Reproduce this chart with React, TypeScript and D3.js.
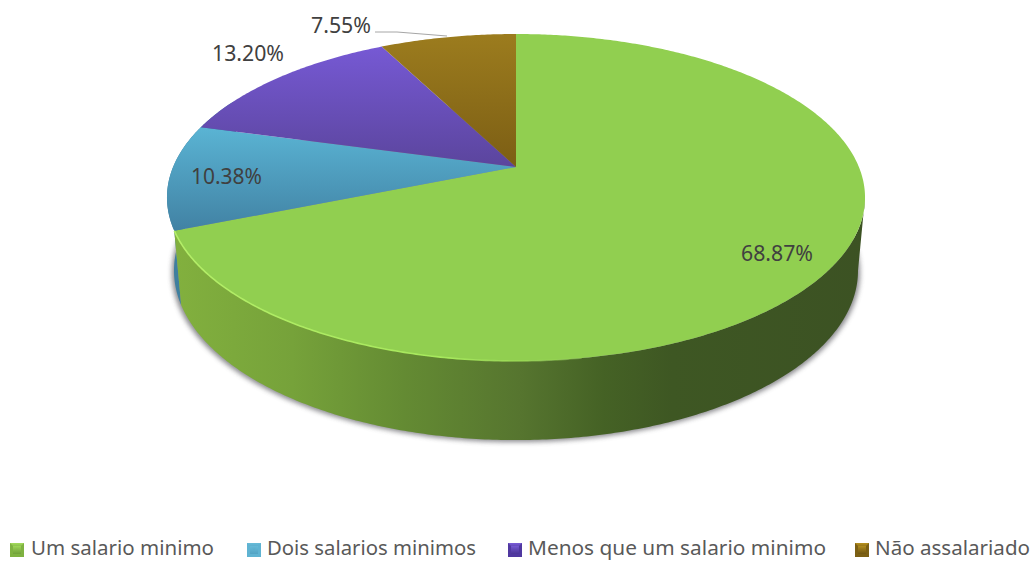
import React from "react";
import * as d3 from "d3";

const categories = ["Um salario minimo", "Dois salarios minimos", "Menos que um salario minimo", "Não assalariado"];
const shares = [68.87, 10.38, 13.2, 7.55];
const shareLabels = ["68.87%", "10.38%", "13.20%", "7.55%"];

const W = 1035, H = 561;
const K = 0.1865;
const topDisk = { cx: 516, cy: 167, R: 342.9, B: 157.8 };
const baseDisk = { cx: 516, cy: 239, R: 336, B: 163.6 };
type Disk = typeof topDisk;

const project = (d: Disk, a: number): [number, number] => {
  const x = Math.sin(a), y = -Math.cos(a), w = 1 - K * y;
  return [d.cx + (d.R * x) / w, d.cy + (d.B * y) / w];
};
const arcPts = (d: Disk, a0: number, a1: number): [number, number][] => {
  const n = Math.max(2, Math.ceil(Math.abs(a1 - a0) / 0.01));
  return d3.range(n + 1).map((i) => project(d, a0 + ((a1 - a0) * i) / n));
};
const line = d3.line<[number, number]>().x((p) => p[0]).y((p) => p[1]);

const arcs = d3.pie<number>().sort(null).value((v) => v)(shares);
const topFills = ["#91cf50", "url(#gBlue)", "url(#gPurple)", "url(#gBrown)"];
const swatch = [
  { base: "#7fb241", hi: "#a4dc5c", lo: "#6d9c38" },
  { base: "#5fb3d2", hi: "#68bcd9", lo: "#4f9fc0" },
  { base: "#5038a0", hi: "#7a5cd8", lo: "#4a3594" },
  { base: "#7c6014", hi: "#b8921f", lo: "#6d5412" },
];
const legendLayout = [
  { sx: 10, tx: 31, tw: 183 },
  { sx: 247, tx: 267, tw: 209 },
  { sx: 508, tx: 528, tw: 298 },
  { sx: 855, tx: 875, tw: 155 },
];
const labelLayout = [
  { x: 741, y: 261, w: 72 },
  { x: 191, y: 184, w: 71 },
  { x: 212, y: 61, w: 72 },
  { x: 311, y: 33, w: 60 },
];

const wall = (a0: number, a1: number) =>
  (line([...arcPts(topDisk, a0, a1), ...arcPts(baseDisk, a1, a0)]) ?? "") + "Z";
const slice = (a0: number, a1: number) =>
  (line([[topDisk.cx, topDisk.cy], ...arcPts(topDisk, a0, a1)]) ?? "") + "Z";

export default function App() {
  const greenEnd = arcs[0].endAngle;
  const blueEnd = arcs[1].endAngle;
  const silhouette = Math.acos(-K);
  const shadowPts = arcPts({ ...baseDisk, R: baseDisk.R + 2, cy: baseDisk.cy + 2 }, 0, Math.PI * 2);
  return (
    <svg width={W} height={H} viewBox={`0 0 ${W} ${H}`} style={{ position: "absolute", left: 0, top: 0, background: "#fff" }}>
      <defs>
        <linearGradient id="gBlue" gradientUnits="userSpaceOnUse" x1="0" y1="127" x2="0" y2="240">
          <stop offset="0" stopColor="#5ab4d4" />
          <stop offset="1" stopColor="#3f7d9f" />
        </linearGradient>
        <linearGradient id="gPurple" gradientUnits="userSpaceOnUse" x1="0" y1="47" x2="0" y2="167">
          <stop offset="0" stopColor="#7659d4" />
          <stop offset="1" stopColor="#5b459d" />
        </linearGradient>
        <linearGradient id="gBrown" gradientUnits="userSpaceOnUse" x1="0" y1="34" x2="0" y2="167">
          <stop offset="0" stopColor="#9c7c1e" />
          <stop offset="1" stopColor="#7c5e14" />
        </linearGradient>
        <linearGradient id="gWall" gradientUnits="userSpaceOnUse" x1="175" y1="0" x2="865" y2="0">
          <stop offset="0" stopColor="#82b03e" />
          <stop offset="0.17" stopColor="#76a23a" />
          <stop offset="0.33" stopColor="#648b33" />
          <stop offset="0.5" stopColor="#56752f" />
          <stop offset="0.62" stopColor="#456225" />
          <stop offset="0.72" stopColor="#3e5723" />
          <stop offset="1" stopColor="#3c5223" />
        </linearGradient>
        <linearGradient id="gRim" gradientUnits="userSpaceOnUse" x1="175" y1="0" x2="640" y2="0">
          <stop offset="0" stopColor="#b4ee68" />
          <stop offset="0.6" stopColor="#a6e85c" />
          <stop offset="1" stopColor="#92d050" stopOpacity="0" />
        </linearGradient>
        <filter id="soft" x="-5%" y="-5%" width="110%" height="110%">
          <feGaussianBlur stdDeviation="2.5" />
        </filter>
        {swatch.map((s, i) => (
          <linearGradient key={i} id={`sw${i}`} x1="0" y1="0" x2="0" y2="1">
            <stop offset="0" stopColor={s.hi} />
            <stop offset="1" stopColor={s.lo} />
          </linearGradient>
        ))}
      </defs>

      <path d={(line(shadowPts) ?? "") + "Z"} fill="#77777c" opacity={0.85} filter="url(#soft)" />
      <path d={wall(greenEnd, blueEnd + 0.2)} fill="#3f7f9f" />
      <path d={wall(silhouette, greenEnd)} fill="url(#gWall)" />

      {arcs.map((a, i) => (
        <path key={i} d={slice(a.startAngle, a.endAngle)} fill={topFills[i]} />
      ))}
      <path d={line(arcPts(topDisk, Math.PI * 0.95, greenEnd)) ?? ""} fill="none" stroke="url(#gRim)" strokeWidth={1.6} />

      <polyline points="375,32 397,32 447,36" fill="none" stroke="#a6a6a6" strokeWidth={1} />

      <g fontFamily="'Noto Sans', 'Open Sans', sans-serif" fontSize={21} fill="#404040">
        {shareLabels.map((t, i) => (
          <text key={t} x={labelLayout[i].x} y={labelLayout[i].y} textLength={labelLayout[i].w} lengthAdjust="spacingAndGlyphs">
            {t}
          </text>
        ))}
      </g>

      <g fontFamily="'Noto Sans', 'Open Sans', sans-serif" fontSize={20} fill="#595959">
        {categories.map((c, i) => {
          const l = legendLayout[i];
          return (
            <g key={c}>
              <rect x={l.sx} y={543} width={14} height={14} fill={swatch[i].base} />
              <path d={`M${l.sx} 543H${l.sx + 14}L${l.sx + 7} 550Z`} fill={`url(#sw${i})`} />
              <rect x={l.sx + 3} y={546} width={8} height={8} fill={`url(#sw${i})`} opacity={0.8} />
              <text x={l.tx} y={555} textLength={l.tw} lengthAdjust="spacingAndGlyphs">{c}</text>
            </g>
          );
        })}
      </g>
    </svg>
  );
}
